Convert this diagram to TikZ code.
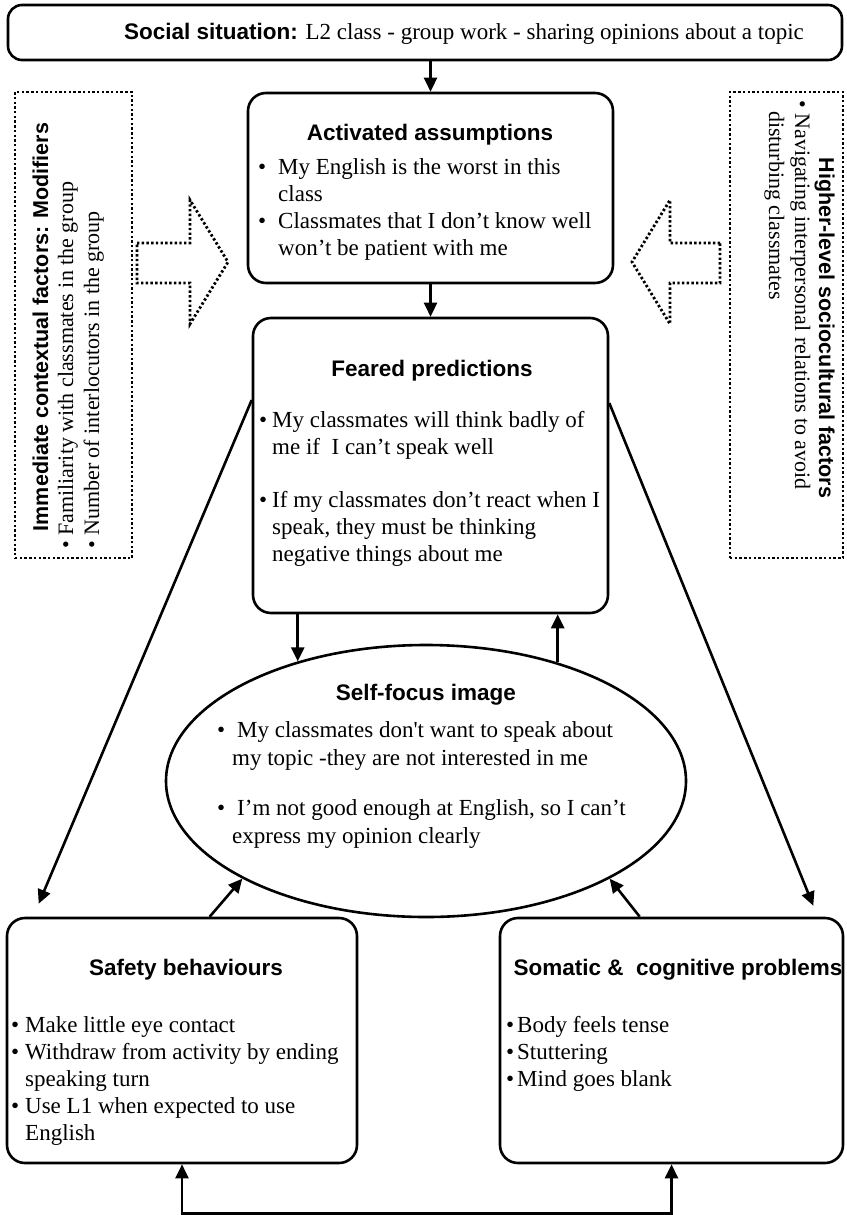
\documentclass[tikz,border=0pt]{standalone}
\usepackage{fontspec}
\setmainfont{Liberation Serif}
\setsansfont{Liberation Sans}
\usetikzlibrary{arrows.meta,shapes.geometric,calc}
\begin{document}
\begin{tikzpicture}[x=1pt,y=-1pt,
  every node/.append style={inner sep=0pt},
  box/.style={draw, line width=2.6pt, rounded corners=18pt},
  dbox/.style={draw, line width=2.8pt, dash pattern=on 2.4pt off 2.3pt},
  hd/.style={font=\sffamily\bfseries\fontsize{22.5}{26}\selectfont, anchor=base},
  tx/.style={font=\fontsize{23}{27}\selectfont, anchor=base west},
  sm/.style={font=\fontsize{22}{26}\selectfont, anchor=base west},
  smhd/.style={font=\sffamily\bfseries\fontsize{21.5}{25}\selectfont, anchor=base},
  arr/.style={line width=2.6pt, -{Triangle[length=14pt,width=13pt]}},
  arrb/.style={line width=2.6pt, {Triangle[length=14pt,width=13pt]}-{Triangle[length=14pt,width=13pt]}}]
\useasboundingbox (0,0) rectangle (846,1215);

% top box
\node[box, rounded corners=14pt, minimum width=834pt, minimum height=55pt] (top) at (425,32.5) {};
\node[tx] (toptext) at (124,40) {{\sffamily\bfseries\fontsize{22.5}{26}\selectfont Social situation:} L2 class - group work - sharing opinions about a topic};

% activated assumptions
\node[box, minimum width=365pt, minimum height=190pt] (act) at (430.5,188) {};
\node[hd] (actt) at (430,140) {Activated assumptions};
\node[tx] (a1) at (258,174) {\makebox[20pt][l]{\textbullet}My English is the worst in this};
\node[tx] (a2) at (278,201) {class};
\node[tx] (a3) at (258,228) {\makebox[20pt][l]{\textbullet}Classmates that I don’t know well};
\node[tx] (a4) at (278,255) {won’t be patient with me};

% feared predictions
\node[box, minimum width=355pt, minimum height=295pt] (feared) at (430.5,465.5) {};
\node[hd] (fpt) at (432,376) {Feared predictions};
\node[tx] (f1) at (259,427) {\makebox[13pt][l]{\textbullet}My classmates will think badly of};
\node[tx] (f2) at (272,454) {me if~ I can’t speak well};
\node[tx] (f3) at (259,507) {\makebox[13pt][l]{\textbullet}If my classmates don’t react when I};
\node[tx] (f4) at (272,534) {speak, they must be thinking};
\node[tx] (f5) at (272,561) {negative things about me};

% contextual modifiers (left dotted)
\node[dbox, minimum width=117pt, minimum height=466pt] (ctx) at (73.5,325) {};
\node[smhd, rotate=90] (ctxt) at (48,327) {Immediate contextual factors: Modifiers};
\node[sm, rotate=90] (ctx1) at (73,549) {\textbullet\ Familiarity with classmates in the group};
\node[sm, rotate=90] (ctx2) at (99,549) {\textbullet\ Number of interlocutors in the group};

% higher-level (right dotted)
\node[dbox, minimum width=113pt, minimum height=466pt] (hl) at (786.5,325) {};
\node[smhd, rotate=-90] (hlt) at (819,328) {Higher-level sociocultural factors};
\node[sm, rotate=-90] (hl1) at (795,100) {\textbullet\ Navigating interpersonal relations to avoid};
\node[sm, rotate=-90] (hl2) at (769,111) {disturbing classmates};

% dotted block arrows
\draw[dbox] (137,243) -- (190,243) -- (190,200) -- (228,262) -- (190,324) -- (190,283) -- (137,283) -- cycle;
\draw[dbox] (720,243) -- (670,243) -- (670,200) -- (632,262) -- (670,324) -- (670,283) -- (720,283) -- cycle;

% self-focus image
\node[draw, ellipse, line width=2.6pt, minimum width=520pt, minimum height=272pt] (self) at (426,781) {};
\node[hd] (sft) at (426,700) {Self-focus image};
\node[tx] (s1) at (217,737) {\makebox[20pt][l]{\textbullet}My classmates don\textquotesingle t want to speak about};
\node[tx] (s2) at (232,765) {my topic -they are not interested in me};
\node[tx] (s3) at (217,815) {\makebox[20pt][l]{\textbullet}I’m not good enough at English, so I can’t};
\node[tx] (s4) at (232,843) {express my opinion clearly};

% safety behaviours
\node[box, minimum width=350pt, minimum height=245pt] (safety) at (182,1040.5) {};
\node[hd] (sbt) at (186,975) {Safety behaviours};
\node[tx] (b1) at (11,1032) {\makebox[14pt][l]{\textbullet}Make little eye contact};
\node[tx] (b2) at (11,1059) {\makebox[14pt][l]{\textbullet}Withdraw from activity by ending};
\node[tx] (b3) at (25,1086) {speaking turn};
\node[tx] (b4) at (11,1113) {\makebox[14pt][l]{\textbullet}Use L1 when expected to use};
\node[tx] (b5) at (25,1140) {English};

% somatic & cognitive
\node[box, minimum width=343pt, minimum height=245pt] (somatic) at (671.5,1040.5) {};
\node[hd] (sct) at (678,975) {Somatic \&\ \ cognitive problems};
\node[tx] (c1) at (506,1032) {\makebox[11pt][l]{\textbullet}Body feels tense};
\node[tx] (c2) at (506,1059) {\makebox[11pt][l]{\textbullet}Stuttering};
\node[tx] (c3) at (506,1086) {\makebox[11pt][l]{\textbullet}Mind goes blank};

% connectors
\draw[arr] (act.north |- top.south) -- (act.north);
\draw[arr] (act.south) -- (feared.north);
\draw[arr] (self.137 |- feared.south) -- (self.137);
\draw[arr] (self.42) -- (self.42 |- feared.south);
\draw[arr] ($(feared.north west)!0.28!(feared.south west)$) -- ($(safety.north west)+(33,-13)$);
\draw[arr] ($(feared.north east)!0.29!(feared.south east)$) -- ($(somatic.north east)+(-31,-11)$);
\draw[arr] ($(safety.north west)+(204,0)$) -- (self.208);
\draw[arr] ($(somatic.north west)+(141,0)$) -- (self.332);
\draw[arrb] (safety.south) -- ++(0,49) -| (somatic.south);
\end{tikzpicture}
\end{document}
